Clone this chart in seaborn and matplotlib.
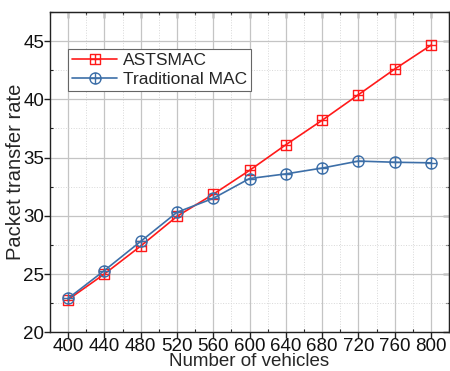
import matplotlib
matplotlib.use("Agg")
import matplotlib.pyplot as plt
import numpy as np
import pandas as pd
import seaborn as sns
from matplotlib.path import Path
from matplotlib.ticker import MultipleLocator

# data
vehicles = [400, 440, 480, 520, 560, 600, 640, 680, 720, 760, 800]
astsmac = [22.8, 25.0, 27.4, 29.95, 31.85, 33.9, 36.1, 38.2, 40.4, 42.6, 44.65]
traditional = [22.9, 25.3, 27.8, 30.3, 31.5, 33.2, 33.6, 34.1, 34.7, 34.6, 34.55]

sns.set_style("white")
plt.rcParams['font.family'] = ['Liberation Sans', 'DejaVu Sans']

# markers: square with plus, circle with plus
cross = Path([(-1, 0), (1, 0), (0, -1), (0, 1)],
             [Path.MOVETO, Path.LINETO, Path.MOVETO, Path.LINETO])
sq = Path([(-1, -1), (1, -1), (1, 1), (-1, 1), (-1, -1)],
          [Path.MOVETO, Path.LINETO, Path.LINETO, Path.LINETO, Path.CLOSEPOLY])
box_plus = Path.make_compound_path(sq, cross)
circ_plus = Path.make_compound_path(Path.unit_circle(), cross)

red = '#ff1a1a'
blue = '#3d6fa8'
dark = '#222222'

df = pd.DataFrame({'x': vehicles, 'a': astsmac, 'b': traditional})

fig = plt.figure(figsize=(4.5, 3.71), dpi=100)
ax = fig.add_axes([0.111, 0.1045, 0.887, 0.863])

sns.lineplot(data=df, x='x', y='a', ax=ax, color=red, lw=1.2, marker=box_plus,
             markersize=7.5, markerfacecolor='none', markeredgecolor=red,
             markeredgewidth=1.0, label='ASTSMAC')
sns.lineplot(data=df, x='x', y='b', ax=ax, color=blue, lw=1.2, marker=circ_plus,
             markersize=8, markerfacecolor='none', markeredgecolor=blue,
             markeredgewidth=1.0, label='Traditional MAC')

ax.set_xlim(380, 820)
ax.set_ylim(20, 47.5)
ax.set_xticks(vehicles)
ax.set_yticks([20, 25, 30, 35, 40, 45])
ax.xaxis.set_minor_locator(MultipleLocator(20))
ax.yaxis.set_minor_locator(MultipleLocator(2.5))
ax.grid(which='major', color='#c4c4c4', lw=0.9, ls='-')
ax.grid(which='minor', color='#d8d8d8', lw=0.7, ls=':')
ax.set_axisbelow(True)

for s in ax.spines.values():
    s.set_color(dark)
    s.set_linewidth(1.0)

ax.tick_params(which='major', direction='out', length=4, width=1, labelsize=13.5,
               pad=0, colors=dark, labelcolor='#111111')
ax.tick_params(which='minor', direction='in', length=2, width=0.8, colors=dark)
ax.tick_params(axis='x', which='both', bottom=True)
ax.tick_params(axis='y', which='both', left=True)

top = ax.secondary_xaxis('top')
top.set_xticks(vehicles)
top.xaxis.set_minor_locator(MultipleLocator(20))
top.tick_params(which='major', direction='in', length=4, width=1, labeltop=False, colors=dark)
top.tick_params(which='minor', direction='in', length=2, width=0.8, colors=dark)
right = ax.secondary_yaxis('right')
right.set_yticks([20, 25, 30, 35, 40, 45])
right.yaxis.set_minor_locator(MultipleLocator(2.5))
right.tick_params(which='major', direction='in', length=4, width=1, labelright=False, colors=dark)
right.tick_params(which='minor', direction='in', length=2, width=0.8, colors=dark)

ax.set_xlabel('Number of vehicles', fontsize=13.5, labelpad=-1)
ax.set_ylabel('Packet transfer rate', fontsize=14.5, labelpad=-1)

leg = ax.legend(loc='upper left', bbox_to_anchor=(0.045, 0.885), fontsize=12.5,
                frameon=True, fancybox=False, edgecolor='#666666',
                framealpha=1, handlelength=2.6, borderpad=0.25,
                labelspacing=0.2, handletextpad=0.3, borderaxespad=0)
leg.get_frame().set_linewidth(0.8)

fig.savefig('out.png', dpi=100)
